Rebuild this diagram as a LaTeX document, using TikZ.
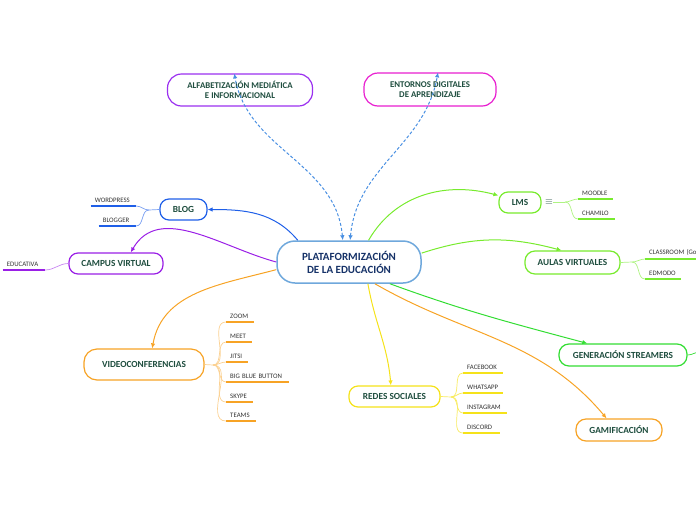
\documentclass[tikz,border=0pt]{standalone}
\usepackage{fontspec}
\setmainfont{Carlito}
\usetikzlibrary{arrows.meta}
\definecolor{tgreen}{HTML}{1E4D3E}
\definecolor{navy}{HTML}{163268}
\definecolor{cblue}{HTML}{6FA8DC}
\definecolor{purp}{HTML}{9B30F0}
\definecolor{mag}{HTML}{E81ED0}
\definecolor{blogc}{HTML}{1F5FE8}
\definecolor{campc}{HTML}{9A1FE6}
\definecolor{orng}{HTML}{F7A325}
\definecolor{yell}{HTML}{F5E21A}
\definecolor{lgreen}{HTML}{78EB2E}
\definecolor{sgreen}{HTML}{33DD33}
\definecolor{dashc}{HTML}{4A90E2}
\definecolor{leaftext}{HTML}{333333}
\tikzset{
  topic/.style={draw, line width=1.2pt, fill=white, inner sep=0pt, align=center,
    text=tgreen, font=\bfseries\fontsize{9.3}{11}\selectfont},
  leaf/.style={anchor=south west, inner xsep=4pt, inner ysep=3.5pt, align=left,
    text=leaftext, font=\fontsize{6.8}{7.5}\selectfont, text width=#1},
  leafr/.style={leaf=#1, anchor=south east},
  uline/.style={line width=1.6pt},
  branch/.style={line width=0.7pt},
  conn/.style={line width=1pt, -{Latex[length=5pt,width=4.5pt]}},
  dconn/.style={line width=1pt, dash pattern=on 3pt off 2pt, dashc,
    {Latex[length=5pt,width=4.5pt]}-{Latex[length=5pt,width=4.5pt]}},
}
\begin{document}
\begin{tikzpicture}[x=1pt,y=-1pt]
\useasboundingbox (0,0) rectangle (696,520);

% central
\node[topic, draw=cblue, line width=1.5pt, rounded corners=18pt, minimum width=144pt, minimum height=42pt,
  text=navy, font=\bfseries\fontsize{11}{13}\selectfont] (c) at (349,262) {PLATAFORMIZACIÓN\\DE LA EDUCACIÓN};

% main topics
\node[topic, draw=purp, rounded corners=14pt, minimum width=145pt, minimum height=32pt,
  font=\bfseries\fontsize{8.8}{10.5}\selectfont] (alfa) at (240,90) {ALFABETIZACIÓN MEDIÁTICA\\E INFORMACIONAL};
\node[topic, draw=mag, rounded corners=14pt, minimum width=132pt, minimum height=33pt,
  font=\bfseries\fontsize{8.8}{10.5}\selectfont] (ent) at (430,89.5) {ENTORNOS DIGITALES\\DE APRENDIZAJE};
\node[topic, draw=blogc, rounded corners=9pt, minimum width=47pt, minimum height=21pt] (blog) at (183.5,209.5) {BLOG};
\node[topic, draw=campc, rounded corners=9pt, minimum width=94pt, minimum height=21pt] (campus) at (116,263.5) {CAMPUS VIRTUAL};
\node[topic, draw=orng, rounded corners=13pt, minimum width=120pt, minimum height=31pt] (video) at (144,364.5) {VIDEOCONFERENCIAS};
\node[topic, draw=yell, rounded corners=9pt, minimum width=91pt, minimum height=21pt] (redes) at (394.5,396.5) {REDES SOCIALES};
\node[topic, draw=lgreen, rounded corners=9pt, minimum width=42pt, minimum height=21pt] (lms) at (520,202.5) {LMS};
\node[topic, draw=lgreen, rounded corners=10pt, minimum width=95pt, minimum height=23pt] (aulas) at (572.5,262.5) {AULAS VIRTUALES};
\node[topic, draw=sgreen, rounded corners=10pt, minimum width=128pt, minimum height=22pt] (stream) at (623,355) {GENERACIÓN STREAMERS};
\node[topic, draw=orng, rounded corners=10pt, minimum width=86pt, minimum height=22pt] (gamif) at (619,430) {GAMIFICACIÓN};
\node[text=tgreen, inner sep=0pt] (icon) at (549,202) {$\equiv$};

% connectors from central
\draw[dconn] (c.106) to[out=95,in=-80] (alfa.109);
\draw[dconn] (c.87) to[out=85,in=-100] (ent.65);
\draw[conn, blogc] (c.157) to[out=130,in=0] (blog.east);
\draw[conn, campc] (c.west) to[out=165,in=60] (campus.37);
\draw[conn, orng] (c.186) to[out=195,in=80] (video.63);
\draw[conn, yell] (c.-49) to[out=-80,in=95] (redes.108);
\draw[conn, orng] (c.-40) to[out=-30,in=130] (gamif.137);
\draw[conn, sgreen] (c.-28) to[out=-20,in=165] (stream.162);
\draw[conn, lgreen] (c.7) to[out=18,in=165] (aulas.132);
\draw[conn, lgreen] (c.48) to[out=60,in=165] (lms.162);

% BLOG leaves
\node[leafr=37pt] (wp) at (136,206) {WORDPRESS};
\node[leafr=29pt] (bg) at (136,226) {BLOGGER};
\coordinate (jb) at (149,210);
\draw[uline, blogc] (wp.south west) -- (wp.south east);
\draw[uline, blogc] (bg.south west) -- (bg.south east);
\draw[branch, blogc!60] (blog.west) -- (jb);
\draw[branch, blogc!60] (jb) to[out=180,in=0] (wp.south east);
\draw[branch, blogc!60] (jb) to[out=180,in=0] (bg.south east);

% CAMPUS leaf
\node[leafr=34pt] (edu) at (45,270) {EDUCATIVA};
\draw[uline, campc] (edu.south west) -- (edu.south east);
\draw[branch, campc!55] (campus.west) to[out=180,in=0] (edu.south east);

% VIDEO leaves
\node[leaf=20pt] (zoom) at (226,322) {ZOOM};
\node[leaf=18pt] (meet) at (226,342) {MEET};
\node[leaf=14pt] (jitsi) at (226,362) {JITSI};
\node[leaf=55pt] (bbb) at (226,382) {BIG BLUE BUTTON};
\node[leaf=19pt] (skype) at (226,402) {SKYPE};
\node[leaf=22pt] (teams) at (226,421) {TEAMS};
\coordinate (jv) at (213,365);
\draw[branch, orng!50] (video.east) -- (jv);
\foreach \n in {zoom,meet,jitsi,bbb,skype,teams}{
  \draw[uline, orng] (\n.south west) -- (\n.south east);
  \draw[branch, orng!50] (jv) to[out=0,in=180] (\n.south west);
}

% REDES leaves
\node[leaf=32pt] (fb) at (463,373) {FACEBOOK};
\node[leaf=32pt] (wa) at (463,393) {WHATSAPP};
\node[leaf=36pt] (ig) at (463,413) {INSTAGRAM};
\node[leaf=29pt] (dc) at (463,433) {DISCORD};
\coordinate (jr) at (451,397);
\draw[branch, yell!70] (redes.east) -- (jr);
\foreach \n in {fb,wa,ig,dc}{
  \draw[uline, yell] (\n.south west) -- (\n.south east);
  \draw[branch, yell!70] (jr) to[out=0,in=180] (\n.south west);
}

% LMS leaves
\node[leaf=27pt] (moodle) at (578,199) {MOODLE};
\node[leaf=29pt] (cham) at (578,219) {CHAMILO};
\coordinate (jl) at (565,202);
\draw[branch, lgreen!60] (icon.east) -- (jl);
\foreach \n in {moodle,cham}{
  \draw[uline, lgreen] (\n.south west) -- (\n.south east);
  \draw[branch, lgreen!60] (jl) to[out=0,in=180] (\n.south west);
}

% AULAS leaves
\node[leaf=70pt] (class) at (645,259) {CLASSROOM (Google)};
\node[leaf=28pt] (edm) at (645,279) {EDMODO};
\coordinate (ja) at (632,262);
\draw[branch, lgreen!60] (aulas.east) -- (ja);
\foreach \n in {class,edm}{
  \draw[uline, lgreen] (\n.south west) -- (\n.south east);
  \draw[branch, lgreen!60] (ja) to[out=0,in=180] (\n.south west);
}

% STREAMERS branch
\coordinate (js) at (700,352);
\draw[branch, sgreen] (stream.east) to[out=0,in=180] (js);
\end{tikzpicture}
\end{document}
